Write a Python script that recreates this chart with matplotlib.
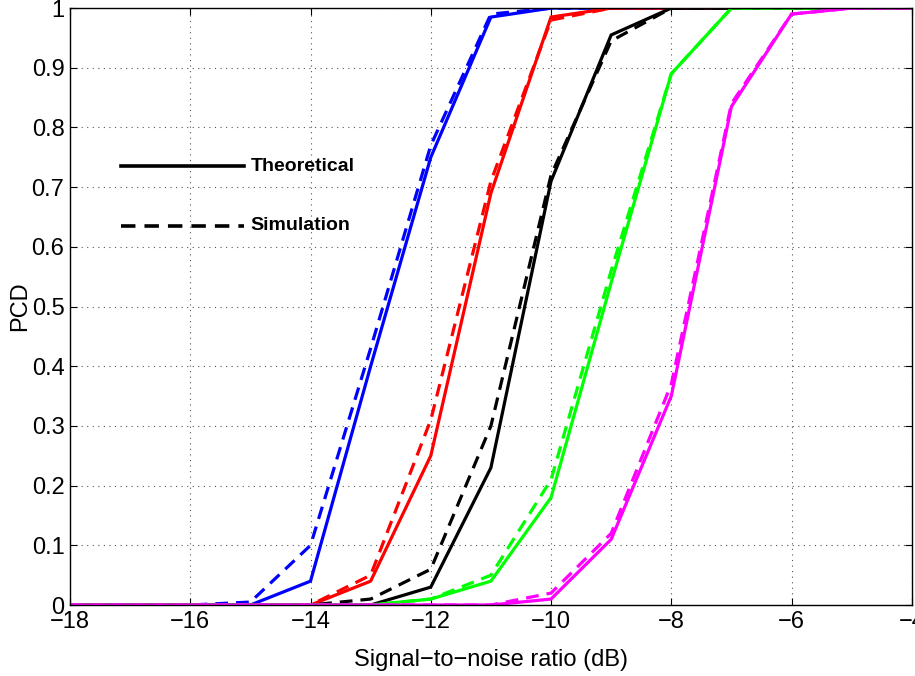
import matplotlib
matplotlib.use("Agg")
import matplotlib.pyplot as plt
import numpy as np

plt.rcParams['font.family'] = ['Liberation Sans', 'DejaVu Sans']

snr = [-18, -17, -16, -15, -14, -13, -12, -11, -10, -9, -8, -7, -6, -5, -4]

# theoretical / simulated PCD per curve
blue_th = [0, 0, 0, 0, 0.04, 0.40, 0.75, 0.985, 1, 1, 1, 1, 1, 1, 1]
blue_sim = [0, 0, 0, 0.005, 0.10, 0.43, 0.77, 0.99, 1, 1, 1, 1, 1, 1, 1]
red_th = [0, 0, 0, 0, 0, 0.04, 0.25, 0.69, 0.985, 1, 1, 1, 1, 1, 1]
red_sim = [0, 0, 0, 0, 0, 0.05, 0.31, 0.71, 0.98, 1, 1, 1, 1, 1, 1]
black_th = [0, 0, 0, 0, 0, 0, 0.03, 0.23, 0.71, 0.955, 1, 1, 1, 1, 1]
black_sim = [0, 0, 0, 0, 0, 0.01, 0.06, 0.30, 0.72, 0.945, 1, 1, 1, 1, 1]
green_th = [0, 0, 0, 0, 0, 0, 0.01, 0.04, 0.18, 0.54, 0.89, 1, 1, 1, 1]
green_sim = [0, 0, 0, 0, 0, 0, 0.01, 0.05, 0.21, 0.56, 0.89, 1, 1, 1, 1]
mag_th = [0, 0, 0, 0, 0, 0, 0, 0, 0.01, 0.11, 0.35, 0.835, 0.99, 1, 1]
mag_sim = [0, 0, 0, 0, 0, 0, 0, 0, 0.02, 0.12, 0.37, 0.84, 0.99, 1, 1]

curves = [
    ('#0000ff', blue_th, blue_sim),
    ('#ff0000', red_th, red_sim),
    ('#000000', black_th, black_sim),
    ('#00ff00', green_th, green_sim),
    ('#ff00ff', mag_th, mag_sim),
]

fig = plt.figure(figsize=(9.15, 6.76), dpi=100)
ax = fig.add_axes([0.0765, 0.105, 0.92, 0.883])

for c, th, sim in curves:
    ax.plot(snr, th, color=c, lw=2.3, solid_joinstyle='miter')
    ax.plot(snr, sim, color=c, lw=2.3, ls=(0, (4, 2.5)))

# hand-made legend inside the axes
ax.plot([-17.15, -15.1], [0.735, 0.735], color='k', lw=2.6)
ax.plot([-17.15, -15.1], [0.635, 0.635], color='k', lw=2.6, ls=(0, (4, 2.5)))
ax.text(-15.0, 0.735, 'Theoretical', fontsize=14, fontweight='bold',
        va='center', ha='left')
ax.text(-15.0, 0.635, 'Simulation', fontsize=14, fontweight='bold',
        va='center', ha='left')

ax.set_xlim(-18, -4)
ax.set_ylim(0, 1)
ax.set_xticks(np.arange(-18, -3, 2))
ax.set_yticks(np.arange(0, 1.01, 0.1))
ax.set_xticklabels(['\u2212%d' % -v for v in range(-18, -3, 2)])
ax.set_yticklabels(['0'] + ['%.1f' % v for v in np.arange(0.1, 0.95, 0.1)] + ['1'])
ax.tick_params(direction='in', length=5, width=0.8, top=True, right=True,
               labelsize=17, pad=4)
ax.grid(True, color='#555555', ls=(0, (1, 4)), lw=0.8)
for s in ax.spines.values():
    s.set_linewidth(1.0)

ax.set_xlabel('Signal\u2212to\u2212noise ratio (dB)', fontsize=17, labelpad=12)
ax.set_ylabel('PCD', fontsize=17, labelpad=0)

fig.savefig('out.png', dpi=100)
